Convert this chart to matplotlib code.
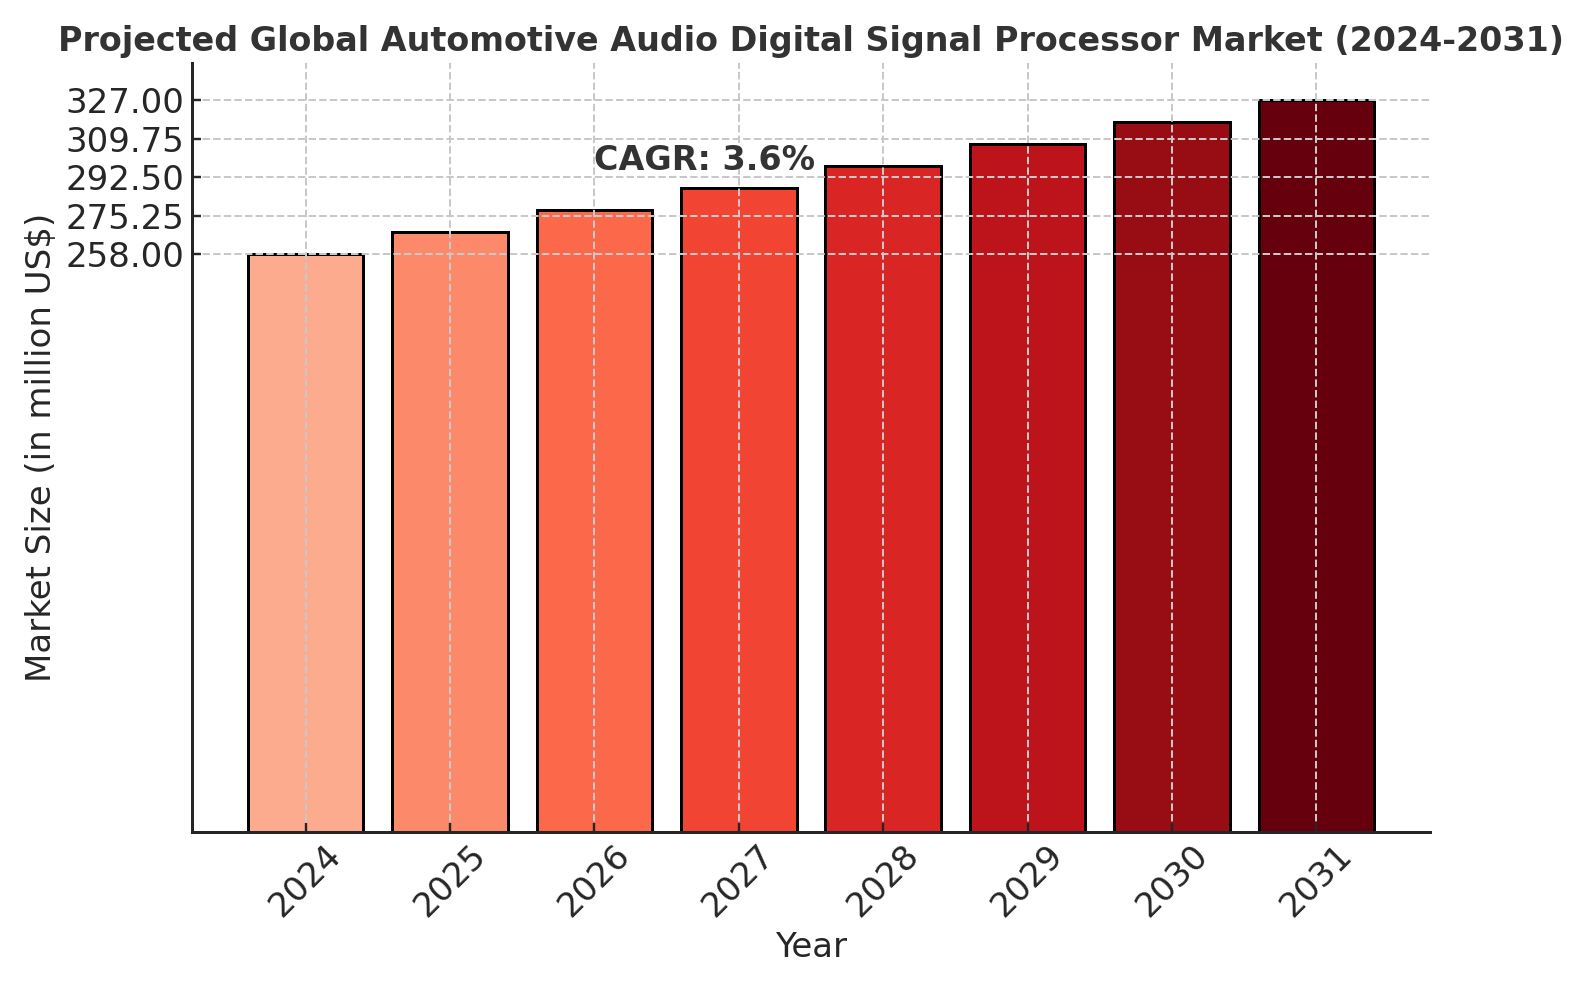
import matplotlib
matplotlib.use('Agg')
import matplotlib.pyplot as plt
import numpy as np

years = ['2024', '2025', '2026', '2027', '2028', '2029', '2030', '2031']
market_size = [258.0, 267.9, 277.7, 287.6, 297.4, 307.3, 317.1, 327.0]
ytick_values = [258.00, 275.25, 292.50, 309.75, 327.00]
cagr_label = 'CAGR: 3.6%'


def main():
    fig = plt.figure(figsize=(11, 6.875), dpi=144)
    ax = fig.add_axes([0.121, 0.160, 0.782, 0.776])

    x = np.arange(len(years))
    colors = plt.cm.Reds(np.linspace(0.3, 1.0, len(years)))
    ax.bar(x, market_size, width=0.8, color=colors, edgecolor='black', linewidth=1.5)

    ax.set_xticks(x)
    ax.set_xticklabels(years, rotation=45)
    ax.set_yticks(ytick_values)
    ax.set_yticklabels(['%.2f' % v for v in ytick_values])
    ax.tick_params(axis='both', direction='in', labelsize=17, length=4.5, width=1.2,
                   colors='#262626')

    ax.set_xlabel('Year', fontsize=17, color='#262626')
    ax.set_ylabel('Market Size (in million US$)', fontsize=17, color='#262626')
    ax.set_title('Projected Global Automotive Audio Digital Signal Processor Market (2024-2031)',
                 fontsize=16.7, fontweight='bold', color='#333333')

    ax.text(2, 292.5, cagr_label, fontsize=16.7, fontweight='bold', color='#333333',
            ha='left', va='bottom')

    ax.grid(True, linestyle='--', color='#c8c8c8', linewidth=1.0)
    ax.set_axisbelow(False)
    for side in ('top', 'right'):
        ax.spines[side].set_visible(False)
    for side in ('left', 'bottom'):
        ax.spines[side].set_linewidth(1.5)
        ax.spines[side].set_color('#262626')

    fig.savefig('out.png', dpi=144)


if __name__ == '__main__':
    main()
